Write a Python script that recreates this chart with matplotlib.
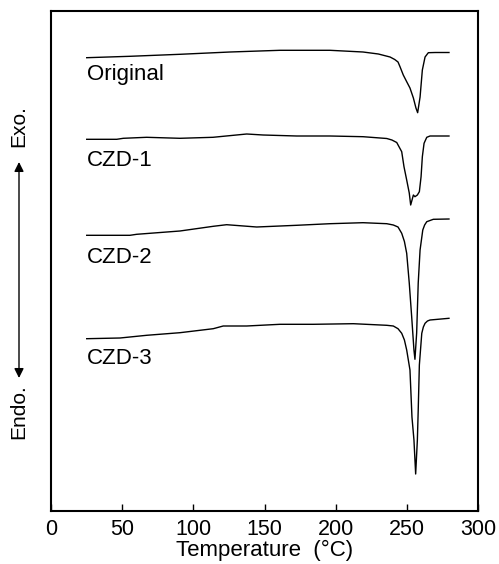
import matplotlib

matplotlib.use("Agg")
import matplotlib.pyplot as plt
from matplotlib.patches import FancyArrowPatch

# DSC traces (temperature in degC, signal in arbitrary units,
# curves already stacked one above the other)
ORIGINAL_T = [25.1, 55.5, 90.6, 125.8, 160.9, 196.0, 219.2, 230.0, 238.2, 241.5, 243.8, 245.2,
              247.5, 249.9, 252.2, 254.6, 256.4, 257.6, 259.3, 260.9, 262.8, 265.1, 270.0, 279.6]
ORIGINAL_Y = [453.3, 454.7, 456.7, 459.0, 460.7, 460.7, 459.0, 457.0, 454.0, 451.5, 449.0, 444.3,
              436.0, 429.3, 423.0, 413.0, 403.0, 398.3, 414.0, 441.0, 454.0, 458.3, 458.5, 458.5]

CZD1_T = [25.1, 46.2, 50.8, 67.2, 90.6, 113.8, 137.5, 149.0, 172.6, 196.0, 219.2, 235.9, 239.5,
          242.9, 246.4, 248.0, 249.9, 251.7, 252.7, 254.6, 255.7, 257.4, 258.8, 260.0, 260.9,
          262.1, 264.0, 266.3, 279.6]
CZD1_Y = [371.7, 371.7, 372.7, 373.7, 372.7, 373.7, 377.0, 376.0, 375.0, 375.0, 374.3, 372.5, 371.0,
          368.5, 359.3, 344.3, 331.0, 318.0, 306.0, 316.0, 314.3, 316.0, 319.3, 334.3, 354.3,
          367.7, 373.7, 375.0, 375.0]

CZD2_T = [25.1, 55.5, 60.2, 90.6, 114.0, 123.4, 144.5, 172.6, 196.0, 219.2, 235.9, 240.5, 243.8,
          246.4, 248.3, 249.9, 251.7, 253.4, 255.0, 255.7, 256.9, 258.0, 259.3, 261.2, 262.5,
          264.0, 268.6, 279.6]
CZD2_Y = [275.7, 275.7, 276.7, 280.0, 284.7, 286.3, 284.0, 285.7, 287.3, 288.3, 287.3, 286.0, 284.0,
          277.7, 269.5, 257.7, 228.0, 194.3, 161.0, 151.7, 178.0, 228.0, 261.0, 281.0, 286.0,
          289.3, 291.7, 292.0]

CZD3_T = [25.1, 48.5, 67.2, 90.6, 114.0, 121.0, 137.5, 160.9, 184.3, 212.4, 235.9, 240.5, 243.8,
          246.4, 248.3, 249.9, 252.2, 253.6, 255.0, 256.2, 257.4, 258.0, 258.8, 260.5, 261.6,
          262.8, 264.5, 266.3, 279.6]
CZD3_Y = [172.3, 173.0, 175.7, 178.3, 182.3, 185.0, 185.0, 186.7, 186.7, 187.3, 185.7, 185.0, 182.3,
          177.7, 171.0, 161.0, 141.0, 94.0, 71.0, 37.0, 71.0, 101.0, 146.0, 177.7, 184.0,
          187.7, 190.0, 191.0, 192.7]

LABELS = ["Original", "CZD-1", "CZD-2", "CZD-3"]
LABEL_Y = [431, 345, 248, 147]
LABEL_T = 25.3

X_TICKS = [0, 50, 100, 150, 200, 250, 300]

plt.rcParams.update(
    {
        "font.family": ["Liberation Sans", "DejaVu Sans"],
        "axes.linewidth": 1.5,
    }
)

fig = plt.figure(figsize=(4.99, 5.64), dpi=100)
ax = fig.add_axes([51 / 499, 53 / 564, 427 / 499, 500 / 564])

curves = [
    (ORIGINAL_T, ORIGINAL_Y),
    (CZD1_T, CZD1_Y),
    (CZD2_T, CZD2_Y),
    (CZD3_T, CZD3_Y),
]
for (t, y), label, ly in zip(curves, LABELS, LABEL_Y):
    ax.plot(t, y, color="black", linewidth=1.0, solid_joinstyle="round")
    ax.text(LABEL_T, ly, label, fontsize=16, ha="left", va="baseline")

ax.set_xlim(0, 300)
ax.set_ylim(0, 500)
ax.set_xticks(X_TICKS)
ax.set_yticks([])
ax.tick_params(axis="x", direction="in", length=5, width=1.0, labelsize=15.5, pad=6)
ax.set_xlabel("Temperature  (\u00b0C)", fontsize=16, labelpad=0)

# exo / endo direction marker on the left
fig.text(19 / 499, 1 - 126 / 564, "Exo.", rotation=90, ha="center", va="center", fontsize=15)
fig.text(19 / 499, 1 - 412 / 564, "Endo.", rotation=90, ha="center", va="center", fontsize=15)
arrow = FancyArrowPatch(
    (19 / 499, 1 - 162 / 564),
    (19 / 499, 1 - 378 / 564),
    transform=fig.transFigure,
    arrowstyle="<|-|>",
    mutation_scale=14,
    linewidth=1.0,
    color="black",
    shrinkA=0,
    shrinkB=0,
)
fig.add_artist(arrow)

fig.savefig("out.png", dpi=100)
